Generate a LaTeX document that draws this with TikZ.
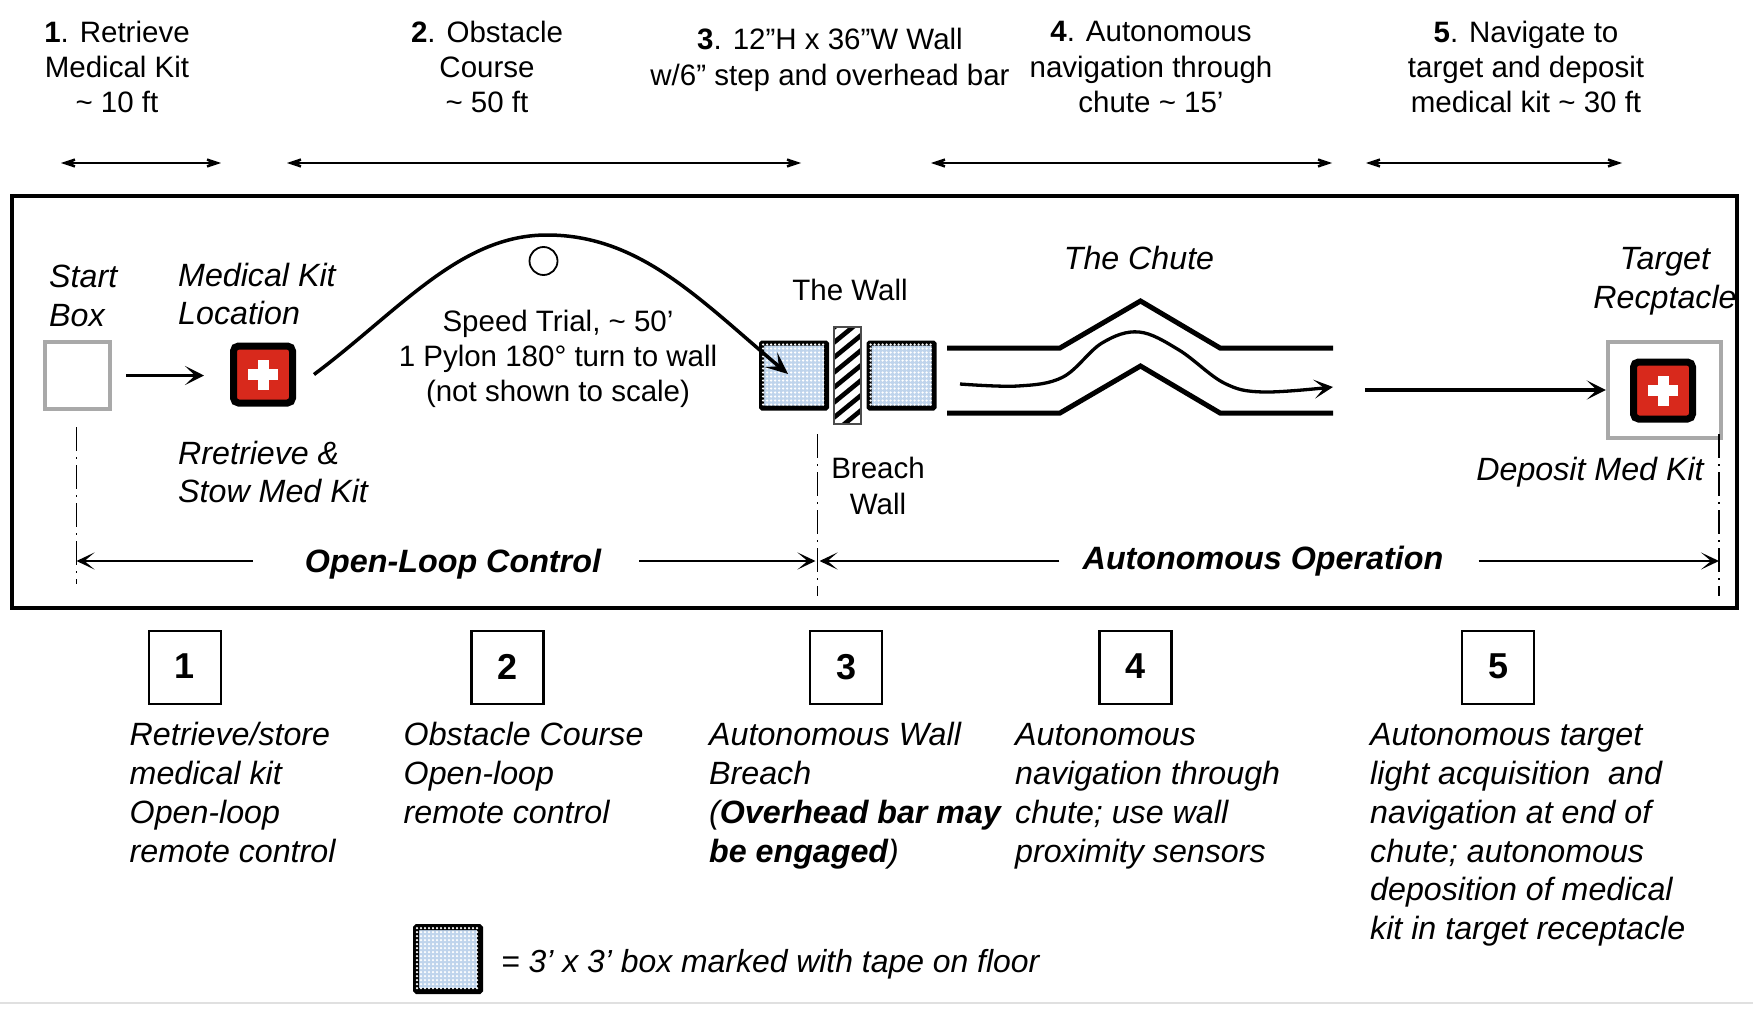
\documentclass[tikz,border=0pt]{standalone}
\usepackage{fontspec}
\setmainfont{Liberation Sans}
\usetikzlibrary{arrows.meta}
\definecolor{kitred}{HTML}{D8291C}
\definecolor{tapeblue}{HTML}{BFD4EC}
\definecolor{boxgray}{HTML}{A9A9A9}
\tikzset{
  txt/.style={inner sep=0pt,font=\fontsize{29.5}{35.3}\selectfont,align=center},
  itxt/.style={inner sep=0pt,font=\fontsize{32.2}{38.9}\selectfont\itshape,align=left,anchor=west},
  ctxt/.style={inner sep=0pt,font=\fontsize{32.2}{38.9}\selectfont\itshape,align=center},
  big/.style={inner sep=0pt,font=\fontsize{32.3}{39}\selectfont\bfseries\itshape},
  numbox/.style={draw=black,line width=2.2pt,minimum width=72pt,minimum height=73pt,inner sep=0pt,font=\fontsize{36}{40}\selectfont\bfseries},
  graybox/.style={draw=boxgray,line width=4.5pt,inner sep=0pt},
  tape/.style={draw=black,line width=5pt,fill=tapeblue,inner sep=0pt,rounded corners=1pt},
  kit/.style={draw=black,line width=7pt,fill=kitred,rounded corners=5pt,inner sep=0pt,minimum width=59pt,minimum height=57pt},
  scalearrow/.style={line width=2.3pt,{Stealth[length=25pt,width=17pt,inset=15pt]}-{Stealth[length=25pt,width=17pt,inset=15pt]}},
  dimarrow/.style={line width=2.2pt,-{Stealth[length=18pt,width=17pt,inset=10pt]}},
  flow/.style={line width=3.3pt,-{Stealth[length=19pt,width=19pt,inset=10pt]}},
  wallline/.style={line width=5pt,line join=miter},
  extent/.style={line width=1.6pt,dash pattern=on 24pt off 6pt on 2pt off 6pt},
}
\newcommand{\medcross}[1]{%
  \fill[white] ([xshift=-15pt,yshift=-5.5pt]#1.center) rectangle ([xshift=15pt,yshift=5.5pt]#1.center);
  \fill[white] ([xshift=-5.5pt,yshift=-15pt]#1.center) rectangle ([xshift=5.5pt,yshift=15pt]#1.center);}
\newcommand{\tapedots}[1]{%
  \begin{scope}
  \clip ([xshift=2.5pt,yshift=-2.5pt]#1.north west) rectangle ([xshift=-2.5pt,yshift=2.5pt]#1.south east);
  \fill[white] foreach \i in {0,...,16} { foreach \j in {0,...,16} {
     ([xshift=\i*4pt,yshift=-\j*4pt]#1.north west) circle[radius=1.25pt]}};
  \end{scope}}
\begin{document}
\begin{tikzpicture}[x=1pt,y=-1pt]
\useasboundingbox (0,0) rectangle (1753,1014);
\fill[white] (0,0) rectangle (1753,1014);
\draw[line width=1.5pt,black!12] (0,1003) -- (1753,1003);
% frame
\node[draw=black,line width=3.5pt,inner sep=0pt,minimum width=1725pt,minimum height=412pt] (frame) at (874.5,402) {};
% top headers
\node[txt] (h1) at (117,67) {\textbf{1}. Retrieve\\Medical Kit\\\textasciitilde\ 10 ft};
\node[txt] (h2) at (487,67) {\textbf{2}. Obstacle\\Course\\\textasciitilde\ 50 ft};
\node[txt] (h3) at (830,60) {\textbf{3}. 12”H x 36”W Wall\\w/6” step and overhead bar};
\node[txt] (h4) at (1151,67) {\textbf{4}. Autonomous\\navigation through\\chute \textasciitilde\ 15’};
\node[txt] (h5) at (1526,67) {\textbf{5}. Navigate to\\target and deposit\\medical kit \textasciitilde\ 30 ft};
% scale arrows
\coordinate (a1) at (61,163); \coordinate (b1) at (221,163);
\coordinate (a2) at (287,163); \coordinate (b2) at (801,163);
\coordinate (a3) at (931,163); \coordinate (b3) at (1332,163);
\coordinate (a4) at (1366,163); \coordinate (b4) at (1622,163);
\draw[scalearrow] (a1) -- (b1);
\draw[scalearrow] (a2) -- (b2);
\draw[scalearrow] (a3) -- (b3);
\draw[scalearrow] (a4) -- (b4);
% start box and kit
\node[graybox,minimum width=65pt,minimum height=67pt] (start) at (77.5,375.5) {};
\node[kit] (kit) at (263,374.5) {};
\medcross{kit}
\draw[flow] (start) ++(48.5,0) coordinate (s0) -- ([xshift=-26pt]kit.west |- s0) coordinate (s1);
\node[itxt] (startl) at (49,296) {Start\\Box};
\node[itxt] (kitl) at (178,294) {Medical Kit\\Location};
\node[itxt] (stow) at (178,472) {Rretrieve \&\\Stow Med Kit};
% pylon
\node[draw=black,line width=1.8pt,circle,minimum size=28pt,inner sep=0pt] (pylon) at (543.5,261) {};
\node[txt] (speed) at (558,359) {Speed Trial, \textasciitilde\ 50’\\1 Pylon 180° turn to wall\\(not shown to scale)};
% wall
\node[tape,minimum width=65pt,minimum height=65pt] (wl) at (794,375.5) {};
\tapedots{wl}
\node[tape,minimum width=65pt,minimum height=65pt] (wr) at (901.5,375.5) {};
\tapedots{wr}
\begin{scope}
  \clip (834,327) rectangle (861,424);
  \foreach \k in {0,...,8} {
    \draw[line width=4.6pt] (826,334+\k*15) -- (870,298+\k*15);
  }
\end{scope}
\node[draw=black!70,line width=2pt,minimum width=27pt,minimum height=97pt,inner sep=0pt] (hatch) at (847.5,375.5) {};
\draw[line width=3.5pt,-{Stealth[length=22pt,width=19pt,inset=10pt]}] ([xshift=18pt]kit.east) .. controls (400,310) and (460,235) .. (547,235) .. controls (640,235) and (700,300) .. ([xshift=-6pt,yshift=1.5pt]wl.center);
\node[txt] (wallt) at (850,290) {The Wall};
\node[txt] (breach) at (878,486) {Breach\\Wall};
% chute
\draw[wallline] (947,348) -- (1060,348) -- (1140.5,301) -- (1220,348) -- (1333,348);
\draw[wallline] (947,413) -- (1060,413) -- (1140.5,366) -- (1220,413) -- (1333,413);
\coordinate (c0) at (960,384);
\coordinate (c1) at (1333,387);
\draw[flow] plot[smooth,tension=0.6] coordinates {(c0) (1018,386) (1063,377) (1102,343) (1139,332) (1179,350) (1224,383) (1263,392) (c1)};
\node[ctxt] (chutel) at (1139,258) {The Chute};
% target
\node[graybox,minimum width=113pt,minimum height=96pt] (target) at (1664.5,390) {};
\node[kit] (kit2) at (1663,390.5) {};
\medcross{kit2}
\coordinate (t0) at (1365,390);
\draw[flow] (t0) -- (target.west);
\node[ctxt] (targl) at (1665,281.5) {Target\\Recptacle};
\node[ctxt] (depo) at (1590,472) {Deposit Med Kit};
% extent lines
\coordinate (e1a) at (76.5,427); \coordinate (e1b) at (76.5,584);
\coordinate (e2a) at (817.5,434); \coordinate (e2b) at (817.5,596);
\coordinate (e3a) at (1719,434); \coordinate (e3b) at (1719,596);
\draw[extent] (e1a) -- (e1b);
\draw[extent] (e2a) -- (e2b);
\draw[extent] (e3a) -- (e3b);
% control arrows
\node[big] (open) at (453,564) {Open-Loop Control};
\node[big] (auto) at (1263,561) {Autonomous Operation};
\coordinate (d1) at (76.5,561);
\coordinate (d2) at (817.5,561);
\coordinate (d3) at (1719,561);
\draw[dimarrow] ([xshift=-52pt]open.west |- d1) -- (d1);
\draw[dimarrow] ([xshift=38pt]open.east |- d1) -- ([xshift=-2pt]d2);
\draw[dimarrow] ([xshift=-23pt]auto.west |- d2) -- ([xshift=2pt]d2);
\draw[dimarrow] ([xshift=35pt]auto.east |- d3) -- (d3);
% numbered boxes
\node[numbox] (n1) at (185,667.5) {\raisebox{2pt}{1}};
\node[numbox] (n2) at (507.5,667.5) {\raisebox{2pt}{2}};
\node[numbox] (n3) at (846,667.5) {\raisebox{2pt}{3}};
\node[numbox] (n4) at (1135.5,667.5) {\raisebox{2pt}{4}};
\node[numbox] (n5) at (1498,667.5) {\raisebox{2pt}{5}};
% descriptions
\node[itxt,anchor=north west] (t1) at (129.5,722.3) {Retrieve/store\\medical kit\\Open-loop\\remote control};
\node[itxt,anchor=north west] (t2) at (403.5,722.3) {Obstacle Course\\Open-loop\\remote control};
\node[itxt,anchor=north west] (t3) at (709,722.3) {Autonomous Wall\\Breach\\(\textbf{Overhead bar may}\\\textbf{be engaged})};
\node[itxt,anchor=north west] (t4) at (1015,723) {Autonomous\\navigation through\\chute; use wall\\proximity sensors};
\node[itxt,anchor=north west] (t5) at (1370,723) {Autonomous target\\light acquisition\ \ and\\navigation at end of\\chute; autonomous\\deposition of medical\\kit in target receptacle};
% legend
\node[tape,line width=6pt,minimum width=64pt,minimum height=64pt] (leg) at (448,959) {};
\tapedots{leg}
\node[itxt,font=\fontsize{31.9}{38.9}\selectfont\itshape] (legt) at (501,964) {= 3’ x 3’ box marked with tape on floor};
\end{tikzpicture}
\end{document}
